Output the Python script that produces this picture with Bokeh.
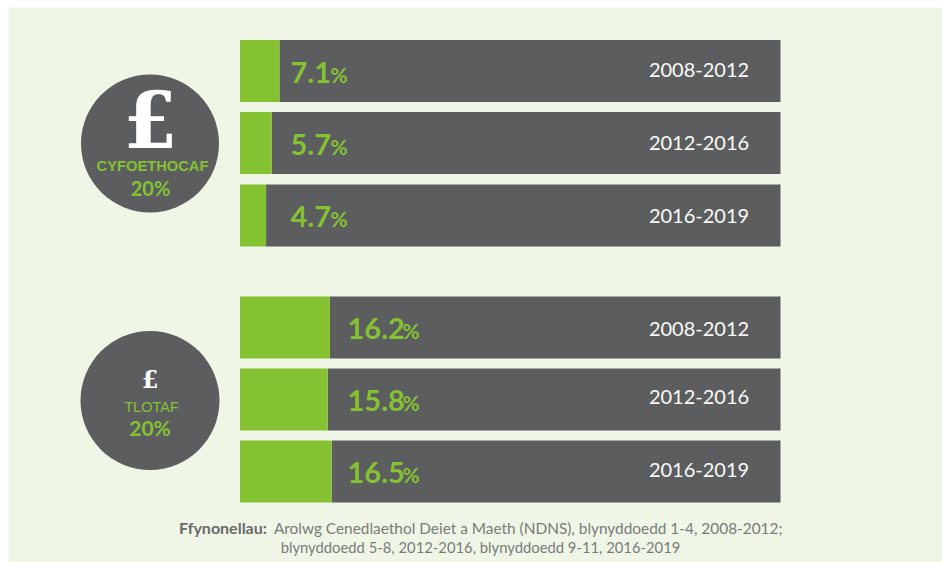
from bokeh.embed import file_html
from bokeh.resources import INLINE
from bokeh.plotting import figure
from bokeh.models import Range1d
from bokeh.core.properties import value

# Share of children's energy from free sugars, by income group and survey period
periods = ["2008-2012", "2012-2016", "2016-2019"]
richest_values = [7.1, 5.7, 4.7]
poorest_values = [16.2, 15.8, 16.5]
richest_name = "CYFOETHOCAF"
poorest_name = "TLOTAF"
group_share_rich = "20%"
group_share_poor = "20%"
pound = "£"
source_bold = "Ffynonellau:"
source_line1 = "Arolwg Cenedlaethol Deiet a Maeth (NDNS), blynyddoedd 1-4, 2008-2012;"
source_line2 = "blynyddoedd 5-8, 2012-2016, blynyddoedd 9-11, 2016-2019"

W, H = 942, 562
PANEL = "#eff6e6"
GREY = "#5c5d5f"
GREEN = "#85c232"
WHITE = "#fbfbf8"
BAR_LEFT_PX = 239.5
PX_PER_UNIT = 5.55
FULL_BAR = 540.5 / PX_PER_UNIT   # value at which the grey track ends

p = figure(
    width=W, height=H, output_backend="svg", toolbar_location=None,
    x_range=Range1d(-BAR_LEFT_PX / PX_PER_UNIT, (W - BAR_LEFT_PX) / PX_PER_UNIT),
    y_range=Range1d(H, 0),
    min_border=0, outline_line_color=None,
    background_fill_color="white", border_fill_color="white",
)
p.axis.visible = False
p.grid.visible = False
p.extra_x_ranges["page"] = Range1d(0, W)

p.quad(left=[8], right=[W], top=[7], bottom=[H], x_range_name="page",
       fill_color=PANEL, line_color=None)


def draw_rows(vals, centers, period_y, label_px):
    p.hbar(y=centers, left=vals, right=[FULL_BAR] * 3, height=62,
           fill_color=GREY, line_color=None)
    p.hbar(y=centers, left=[0] * 3, right=vals, height=62,
           fill_color=GREEN, line_color=None)
    for v, c in zip(vals, centers):
        p.text(x=[label_px], y=[c + 1], text=[f"{v}"], x_range_name="page",
               text_font=value("Lato"), text_font_size="29px", text_font_style="bold",
               text_color=GREEN, text_align="left", text_baseline="middle")
        p.text(x=[label_px + (40 if v < 10 else 55)], y=[c + 3], text=["%"], x_range_name="page",
               text_font=value("Lato"), text_font_size="21px", text_font_style="bold",
               text_color=GREEN, text_align="left", text_baseline="middle")
    p.text(x=[698.5] * 3, y=period_y, text=periods, x_range_name="page",
           text_font=value("Lato"), text_font_size="20px",
           text_color=WHITE, text_align="center", text_baseline="middle")


draw_rows(richest_values, [70.5, 142.5, 215], [69, 142, 215], 290)
draw_rows(poorest_values, [327, 399, 471], [328, 396, 469], 347)

# Income group badges
p.scatter(x=[149.5, 149.5], y=[143, 400], size=[138, 139], marker="circle", x_range_name="page",
          fill_color=GREY, line_color=None)
p.text(x=[150], y=[120], text=[pound], x_range_name="page",
       text_font=value("DejaVu Serif"), text_font_size="78px", text_font_style="bold",
       text_color="white", text_align="center", text_baseline="middle")
p.text(x=[152], y=[165], text=[richest_name], x_range_name="page",
       text_font=value("Liberation Sans"), text_font_size="14.7px", text_font_style="bold",
       text_color=GREEN, text_align="center", text_baseline="middle")
p.text(x=[150], y=[187], text=[group_share_rich], x_range_name="page",
       text_font=value("Lato"), text_font_size="20px", text_font_style="bold",
       text_color=GREEN, text_align="center", text_baseline="middle")
p.text(x=[149.5], y=[379], text=[pound], x_range_name="page",
       text_font=value("DejaVu Serif"), text_font_size="24px", text_font_style="bold",
       text_color="white", text_align="center", text_baseline="middle")
p.text(x=[151], y=[406], text=[poorest_name], x_range_name="page",
       text_font=value("Liberation Sans"), text_font_size="14.5px",
       text_color=GREEN, text_align="center", text_baseline="middle")
p.text(x=[149.5], y=[427], text=[group_share_poor], x_range_name="page",
       text_font=value("Lato"), text_font_size="21px", text_font_style="bold",
       text_color=GREEN, text_align="center", text_baseline="middle")

# Source note
p.text(x=[178.5], y=[527], text=[source_bold], x_range_name="page",
       text_font=value("Lato"), text_font_size="16px", text_font_style="bold",
       text_color="#6a6b6c", text_align="left", text_baseline="middle")
p.text(x=[782], y=[527], text=[source_line1], x_range_name="page",
       text_font=value("Lato"), text_font_size="15.4px",
       text_color="#7a7b7c", text_align="right", text_baseline="middle")
p.text(x=[480], y=[546], text=[source_line2], x_range_name="page",
       text_font=value("Lato"), text_font_size="14.8px",
       text_color="#7a7b7c", text_align="center", text_baseline="middle")

open("out.html", "w").write(file_html(p, INLINE))
